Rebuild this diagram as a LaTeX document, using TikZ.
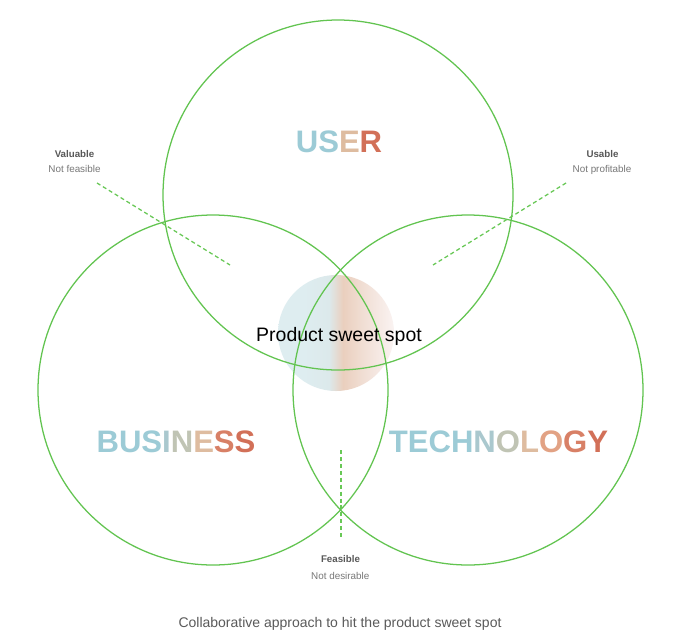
\documentclass[tikz,border=0pt]{standalone}
\usepackage{fontspec}
\setmainfont{Liberation Sans}
\definecolor{ring}{RGB}{98,196,80}
\definecolor{dashgreen}{RGB}{104,200,86}
\definecolor{labeldark}{RGB}{88,88,88}
\definecolor{labellight}{RGB}{120,120,120}
\definecolor{captiongrey}{RGB}{90,90,90}
\definecolor{gBlue}{RGB}{156,203,214}
\definecolor{gBlueB}{RGB}{170,200,206}
\definecolor{gGrey}{RGB}{192,196,180}
\definecolor{gTan}{RGB}{222,188,160}
\definecolor{gPeach}{RGB}{226,162,132}
\definecolor{gRedA}{RGB}{216,128,102}
\definecolor{gRed}{RGB}{210,112,88}
\definecolor{swA}{RGB}{222,237,240}
\definecolor{swB}{RGB}{220,233,235}
\definecolor{swC}{RGB}{234,207,190}
\definecolor{swD}{RGB}{241,223,213}
\definecolor{swE}{RGB}{250,243,242}
% horizontal wash for the centre disc: the disc spans 25bp..75bp
\pgfdeclarehorizontalshading{sweetwash}{100bp}{%
  color(0bp)=(swA); color(36bp)=(swA); color(47bp)=(swB);
  color(53bp)=(swC); color(62bp)=(swD); color(75bp)=(swE); color(100bp)=(swE)}
\tikzset{
  ringline/.style={draw=ring, line width=0.95pt},
  guide/.style={draw=dashgreen, line width=0.95pt, dash pattern=on 3pt off 2.2pt},
  bigword/.style={anchor=base, inner sep=0pt, font=\fontsize{23.3}{28}\selectfont\bfseries},
  headlabel/.style={anchor=base, inner sep=0pt, text=labeldark, font=\fontsize{7.3}{9}\selectfont\bfseries},
  sublabel/.style={anchor=base, inner sep=0pt, text=labellight, font=\fontsize{7.4}{9}\selectfont},
}
\begin{document}
\begin{tikzpicture}[x=0.75pt,y=-0.75pt]
\useasboundingbox (0,0) rectangle (680,632);
\fill[white] (0,0) rectangle (680,632);

% circle centres
\coordinate (cUser) at (338,195);
\coordinate (cBiz) at (213,390);
\coordinate (cTech) at (468,390);
\coordinate (cSweet) at (336,333);

% centre disc
\shade[shading=sweetwash] (cSweet) circle[radius=43.5pt];

% the three rings
\draw[ringline] (cUser) circle[radius=131.25pt];
\draw[ringline] (cBiz) circle[radius=131.25pt];
\draw[ringline] (cTech) circle[radius=131.25pt];

% ring names
\node[bigword] (user) at (339,152)
  {{\color{gBlue}U}{\color{gBlue}S}{\color{gTan}E}{\color{gRed}R}};
\node[bigword] (business) at (176,452)
  {{\color{gBlue}B}{\color{gBlue}U}{\color{gBlue}S}{\color{gBlueB}I}{\color{gGrey}N}{\color{gTan}E}{\color{gRedA}S}{\color{gRed}S}};
\node[bigword] (technology) at (498.5,452)
  {{\color{gBlue}T}{\color{gBlue}E}{\color{gBlue}C}{\color{gBlue}H}{\color{gBlueB}N}{\color{gGrey}O}{\color{gTan}L}{\color{gPeach}O}{\color{gRedA}G}{\color{gRed}Y}};

% centre text
\node[anchor=base, inner sep=0pt, text=black, font=\fontsize{14.6}{17}\selectfont] (sweet) at (339,341) {Product sweet spot};

% pairwise overlap labels
\node[headlabel] (valuable) at (74.5,157) {Valuable};
\node[sublabel] (notfeasible) at (74.5,172.5) {Not feasible};
\node[headlabel] (usable) at (602.5,157) {Usable};
\node[sublabel] (notprofitable) at (602,172.5) {Not profitable};
\node[headlabel] (feasible) at (340.5,562.5) {Feasible};
\node[sublabel] (notdesirable) at (340.3,579) {Not desirable};

% guide lines from labels into the overlaps
\coordinate (gValA) at (97,183);
\coordinate (gValB) at (230,265);
\coordinate (gUseA) at (566,183);
\coordinate (gUseB) at (433,265);
\coordinate (gFeaA) at (341,450);
\coordinate (gFeaB) at (341,539);
\draw[guide] (gValA) -- (gValB);
\draw[guide] (gUseA) -- (gUseB);
\draw[guide] (gFeaA) -- (gFeaB);

% caption
\node[anchor=base, inner sep=0pt, text=captiongrey, font=\fontsize{10.5}{13}\selectfont] (caption) at (340,627)
  {Collaborative approach to hit the product sweet spot};
\end{tikzpicture}
\end{document}
